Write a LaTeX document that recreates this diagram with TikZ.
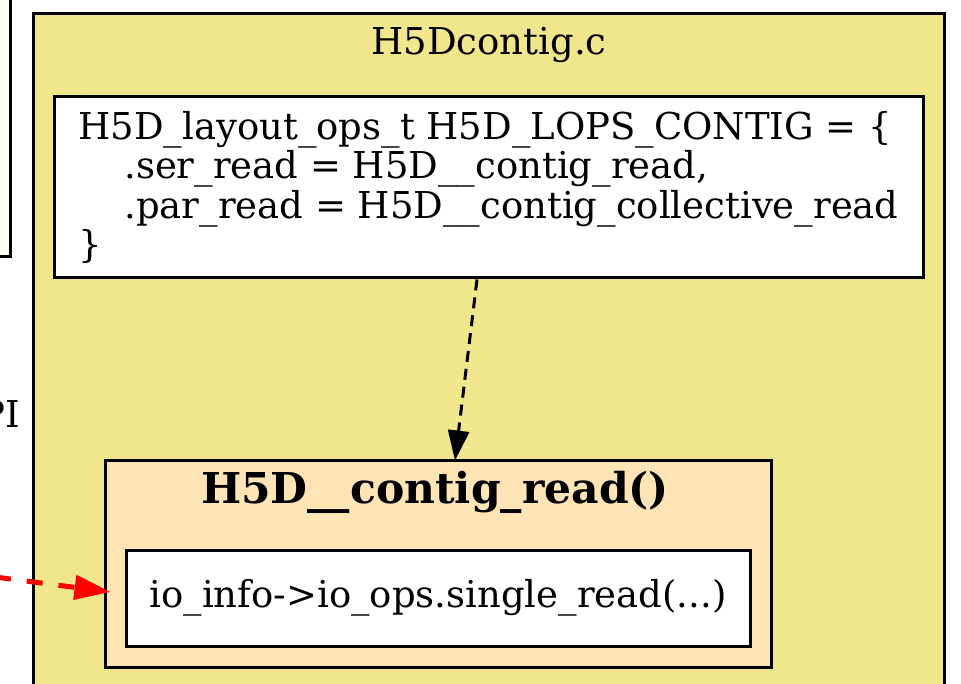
\documentclass[tikz,border=0pt]{standalone}
\usepackage{fontspec}
\setmainfont{DejaVu Serif}
\usetikzlibrary{arrows.meta}
\definecolor{ckhaki}{HTML}{F0E68C}
\definecolor{cmocc}{HTML}{FFE4B5}
\definecolor{civory}{HTML}{FFFFF0}
\tikzset{
  boxstyle/.style={draw=black, line width=3pt, rectangle, inner sep=0pt},
  blackdash/.style={draw=black, line width=3pt, dash pattern=on 11pt off 7pt, -{Triangle[length=30pt,width=21pt]}},
  reddash/.style={draw=red, line width=5pt, dash pattern=on 16pt off 16pt, -{Triangle[length=36pt,width=24pt]}},
}
\begin{document}
\begin{tikzpicture}[x=1pt,y=-1pt, font=\fontsize{37}{39.5}\selectfont]
\useasboundingbox (0,0) rectangle (961,684);
\clip (0,0) rectangle (961,684);
% left partial box
\node[boxstyle, fill=civory, minimum width=30pt, minimum height=277pt] (leftbox) at (-5,118.5) {};
% outer cluster
\node[boxstyle, fill=ckhaki, minimum width=911pt, minimum height=706pt] (fileclu) at (488.5,367) {};
\node[anchor=base, inner sep=0pt] (filelbl) at (489,55) {H5Dcontig.c};
% layout ops node
\node[boxstyle, fill=white, minimum width=869pt, minimum height=181pt, align=left] (lops) at (488.5,187.5)
  {H5D\_layout\_ops\_t H5D\_LOPS\_CONTIG = \{\\
   \hspace*{46pt}.ser\_read = H5D\_\_contig\_read,\\
   \hspace*{46pt}.par\_read = H5D\_\_contig\_collective\_read\\
   \}};
% read cluster
\node[boxstyle, fill=cmocc, minimum width=666pt, minimum height=207pt] (readclu) at (438,563.5) {};
\node[anchor=base, inner sep=0pt, font=\fontsize{42.5}{45}\selectfont\bfseries] (readlbl) at (435,503) {H5D\_\_contig\_read()};
\node[boxstyle, fill=white, minimum width=624pt, minimum height=96pt] (single) at (438,598) {io\_info->io\_ops.single\_read(...)};
% partial text at left
\node[anchor=base east, inner sep=0pt] (apilbl) at (20,428) {PI};
% edges
\coordinate (redstart) at (-5,577);
\draw[blackdash] ([xshift=-11.5pt]lops.south) -- ([xshift=17pt,yshift=-2pt]readclu.north);
\draw[reddash] (redstart) -- ([xshift=-14pt,yshift=6pt]single.west);
\end{tikzpicture}
\end{document}
